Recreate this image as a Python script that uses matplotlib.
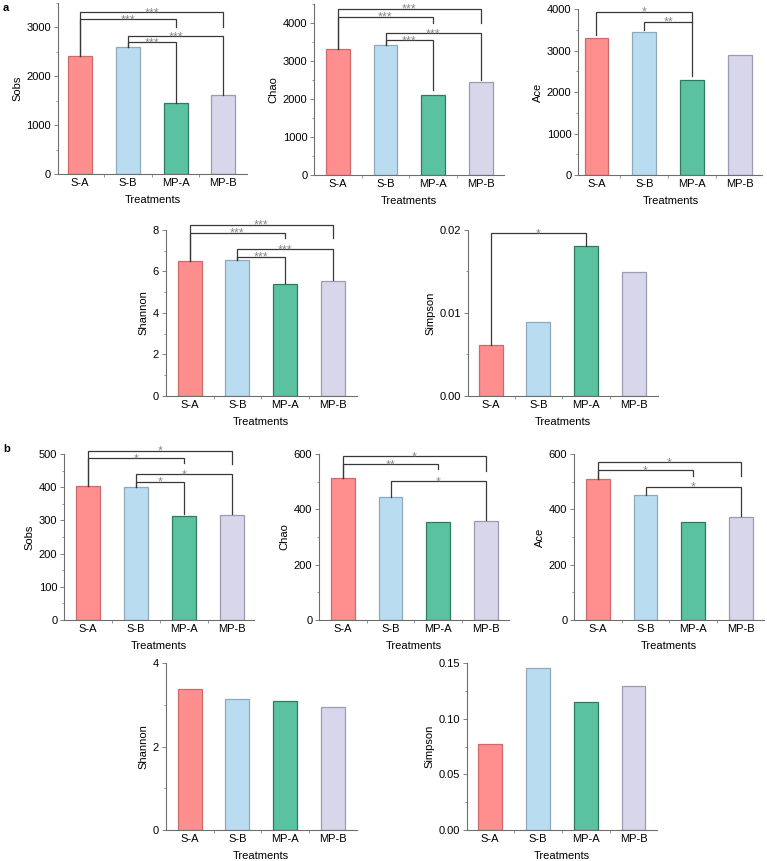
import matplotlib
matplotlib.use("Agg")
import matplotlib.pyplot as plt
from matplotlib.ticker import MultipleLocator, FormatStrFormatter

plt.rcParams['font.family'] = ['Liberation Sans', 'DejaVu Sans']

treatments = ["S-A", "S-B", "MP-A", "MP-B"]
fill_colors = ["#FF8E8E", "#BADCF1", "#5BC2A1", "#D7D6EB"]
edge_colors = ["#CF6A6C", "#8EA8BC", "#2F7A5F", "#9C9BB3"]

# panel a
sobs_a = [2420, 2600, 1460, 1610]
chao_a = [3300, 3410, 2100, 2450]
ace_a = [3300, 3440, 2300, 2890]
shannon_a = [6.50, 6.53, 5.37, 5.52]
simpson_a = [0.0061, 0.0089, 0.0181, 0.0149]

# panel b
sobs_b = [404, 400, 313, 315]
chao_b = [512, 443, 353, 359]
ace_b = [510, 451, 353, 371]
shannon_b = [3.38, 3.14, 3.10, 2.94]
simpson_b = [0.077, 0.146, 0.115, 0.130]

# significance brackets: (i, j, height, left leg bottom, right leg bottom, label)
sig_sobs_a = [(0, 3, 3310, 2420, 3000, "***"), (0, 2, 3170, 2420, 3000, "***"),
              (1, 3, 2820, 2600, 1610, "***"), (1, 2, 2690, 2600, 1460, "***")]
sig_chao_a = [(0, 3, 4370, 3300, 3980, "***"), (0, 2, 4160, 3300, 3980, "***"),
              (1, 3, 3720, 3410, 2490, "***"), (1, 2, 3540, 3410, 2230, "***")]
sig_ace_a = [(0, 2, 3940, 3370, 3700, "*"), (1, 2, 3700, 3490, 2390, "**")]
sig_shannon_a = [(0, 3, 8.25, 6.50, 7.6, "***"), (0, 2, 7.87, 6.50, 7.6, "***"),
                 (1, 3, 7.07, 6.53, 5.59, "***"), (1, 2, 6.71, 6.53, 5.46, "***")]
sig_simpson_a = [(0, 2, 0.0196, 0.0061, 0.0181, "*")]
sig_sobs_b = [(0, 3, 510, 404, 470, "*"), (0, 2, 487, 404, 472, "*"),
              (1, 3, 439, 400, 319, "*"), (1, 2, 417, 400, 319, "*")]
sig_chao_b = [(0, 3, 593, 512, 540, "*"), (0, 2, 564, 512, 545, "**"),
              (1, 3, 502, 443, 361, "*")]
sig_ace_b = [(0, 3, 570, 510, 520, "*"), (0, 2, 542, 510, 520, "*"),
             (1, 3, 482, 451, 376, "*")]

W, H = 767, 861
fig = plt.figure(figsize=(W / 100, H / 100), dpi=100)

AX_COL = "#6e6e6e"
FS = 8


def add_panel(left, top, bottom, xlim, ylim, major, minor, fmt, ylabel, vals, sigs):
    # left/top/bottom in pixels, width comes from xlim at ~48 px per category
    width = (xlim[1] - xlim[0]) * 47.8
    ax = fig.add_axes([left / W, 1 - bottom / H, width / W, (bottom - top) / H])
    ax.bar(range(4), vals, width=0.5, color=fill_colors, edgecolor=edge_colors,
           linewidth=0.9, zorder=2)
    ax.set_xlim(*xlim)
    ax.set_ylim(*ylim)
    ax.set_xticks(range(4))
    ax.set_xticklabels(treatments)
    ax.set_xticks([0.5, 1.5, 2.5], minor=True)
    ax.yaxis.set_major_locator(MultipleLocator(major))
    ax.yaxis.set_minor_locator(MultipleLocator(minor))
    ax.yaxis.set_major_formatter(FormatStrFormatter(fmt))
    for s in ["top", "right"]:
        ax.spines[s].set_visible(False)
    for s in ["left", "bottom"]:
        ax.spines[s].set_color(AX_COL)
        ax.spines[s].set_linewidth(0.8)
    ax.tick_params(axis="y", which="major", direction="out", length=3, width=0.6,
                   color=AX_COL, labelsize=FS, pad=2)
    ax.tick_params(axis="y", which="minor", direction="out", length=1.8, width=0.5,
                   color=AX_COL)
    ax.tick_params(axis="x", which="major", length=0, labelsize=FS, pad=3)
    ax.tick_params(axis="x", which="minor", direction="out", length=1.8, width=0.5,
                   color=AX_COL)
    ax.set_xlabel("Treatments", fontsize=FS, labelpad=5)
    ax.set_ylabel(ylabel, fontsize=FS, labelpad=3)
    for i, j, h, lb, rb, lab in sigs:
        ax.plot([i, i, j, j], [lb, h, h, rb], color="#383838", lw=0.9,
                clip_on=False, zorder=3, solid_joinstyle="miter")
        ax.annotate(lab, ((i + j) / 2, h), xytext=(0, -2.9), textcoords="offset points",
                    ha="center", va="baseline", fontsize=9, color="#8a8a8a",
                    annotation_clip=False)
    return ax


# row 1 of a
add_panel(58, 2.8, 174, (-0.46, 3.5), (0, 3500), 1000, 500, "%d", "Sobs", sobs_a, sig_sobs_a)
add_panel(314.3, 3.7, 174.7, (-0.49, 3.48), (0, 4500), 1000, 500, "%d", "Chao", chao_a, sig_chao_a)
add_panel(578.3, 9.3, 175, (-0.38, 3.47), (0, 4000), 1000, 500, "%d", "Ace", ace_a, sig_ace_a)
# row 2 of a
add_panel(165.7, 230, 395.7, (-0.5, 3.5), (0, 8), 2, 1, "%d", "Shannon", shannon_a, sig_shannon_a)
add_panel(467.7, 230, 395.7, (-0.48, 3.5), (0, 0.02), 0.01, 0.005, "%.2f", "Simpson", simpson_a, sig_simpson_a)
# row 1 of b
add_panel(64.3, 454, 620, (-0.5, 3.47), (0, 500), 100, 50, "%d", "Sobs", sobs_b, sig_sobs_b)
add_panel(319.3, 454, 620, (-0.49, 3.47), (0, 600), 200, 100, "%d", "Chao", chao_b, sig_chao_b)
add_panel(574.3, 454, 620, (-0.49, 3.47), (0, 600), 200, 100, "%d", "Ace", ace_b, sig_ace_b)
# row 2 of b
add_panel(165.7, 663.3, 830, (-0.5, 3.5), (0, 4), 2, 1, "%d", "Shannon", shannon_b, [])
add_panel(466.7, 663.3, 830, (-0.49, 3.5), (0, 0.15), 0.05, 0.025, "%.2f", "Simpson", simpson_b, [])

fig.text(3 / W, 1 - 8 / H, "a", fontsize=8, fontweight="bold", va="center", ha="left")
fig.text(3 / W, 1 - 449 / H, "b", fontsize=8, fontweight="bold", va="center", ha="left")

fig.savefig("out.png", dpi=100)
